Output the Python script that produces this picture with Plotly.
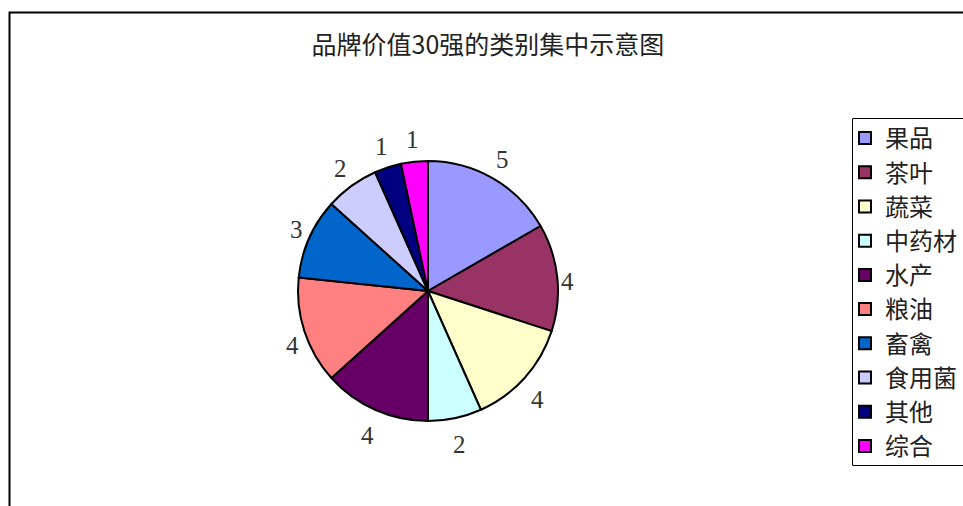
import math
import plotly.graph_objects as go

categories = ["果品", "茶叶", "蔬菜", "中药材", "水产", "粮油", "畜禽", "食用菌", "其他", "综合"]
values = [5, 4, 4, 2, 4, 4, 3, 2, 1, 1]
colors = ["#9999FF", "#993366", "#FFFFCC", "#CCFFFF", "#660066",
          "#FF8080", "#0066CC", "#CCCCFF", "#000080", "#FF00FF"]
title_text = "品牌价值30强的类别集中示意图"

W, H = 963, 506
cx, cy, r = 428, 291, 130

fig = go.Figure(go.Pie(
    labels=categories,
    values=values,
    sort=False,
    direction="clockwise",
    rotation=0,
    textinfo="none",
    marker=dict(colors=colors, line=dict(color="black", width=2)),
    domain=dict(x=[(cx - r) / W, (cx + r) / W], y=[(H - cy - r) / H, (H - cy + r) / H]),
    hoverinfo="label+value",
))

# value labels placed outside each slice, from the slice mid-angles
annotations = []
total = sum(values)
cum = 0
for v in values:
    theta = (cum + v / 2) / total * 2 * math.pi
    cum += v
    s, c = math.sin(theta), math.cos(theta)
    px = cx + (r + 9 + 12 * abs(c)) * s
    if c < 0.2:
        py = cy - (r + 25) * c + 7 * abs(s)
    else:
        py = cy - (r + 22) * c
    annotations.append(dict(
        x=px / W, y=(H - py) / H, xref="paper", yref="paper",
        text=str(v), showarrow=False, xanchor="center", yanchor="middle",
        font=dict(family="Liberation Serif", size=25, color="#333"),
    ))

fig.update_layout(
    width=W, height=H,
    margin=dict(l=0, r=0, t=0, b=0),
    paper_bgcolor="white",
    title=dict(text=title_text, x=488 / W, xanchor="center", y=(H - 45) / H, yanchor="middle",
               font=dict(family="Noto Sans CJK SC", size=25, color="#222")),
    legend=dict(x=845 / W, xanchor="left", y=(H - 116) / H, yanchor="top",
                font=dict(family="Noto Sans CJK SC", size=24, color="#222"),
                borderwidth=0, bgcolor="rgba(0,0,0,0)",
                itemclick=False, itemdoubleclick=False),
    annotations=annotations,
    shapes=[
        dict(type="rect", xref="paper", yref="paper",
             x0=9.5 / W, x1=1.02, y0=-0.02, y1=(H - 12.5) / H,
             line=dict(color="black", width=2), layer="below"),
        dict(type="rect", xref="paper", yref="paper",
             x0=852.5 / W, x1=1.02, y0=(H - 465.5) / H, y1=(H - 118.5) / H,
             line=dict(color="black", width=1), fillcolor="white", layer="below"),
    ],
)

fig.write_html("out.html")
